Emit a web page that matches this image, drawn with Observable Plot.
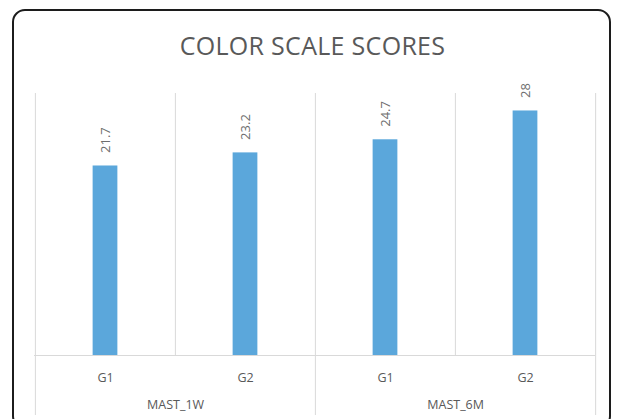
<!DOCTYPE html>
<html>
<head>
<meta charset="utf-8">
<script src="https://cdn.jsdelivr.net/npm/d3@7"></script>
<script src="https://cdn.jsdelivr.net/npm/@observablehq/plot@0.6"></script>
<style>
  html, body { margin: 0; padding: 0; background: #fff; }
  #wrap { position: relative; width: 617px; height: 419px; overflow: hidden; background: #fff; }
  #border { position: absolute; left: 12px; top: 9px; width: 599px; height: 420px; border: 2px solid #1c1c1c; border-radius: 13px; box-sizing: border-box; }
  #title { position: absolute; left: 0; width: 625px; top: 33px; line-height: 25px; text-align: center; font-family: "Open Sans", sans-serif; font-size: 25px; color: #595959; letter-spacing: 0.3px; }
  #chart { position: absolute; left: 0; top: 0; }
</style>
</head>
<body>
<div id="wrap">
  <div id="chart"></div>
  <div id="border"></div>
  <div id="title">COLOR SCALE SCORES</div>
</div>
<script>
const groups = ["MAST_1W", "MAST_1W", "MAST_6M", "MAST_6M"];
const subgroups = ["G1", "G2", "G1", "G2"];
const values = [21.7, 23.2, 24.7, 28];
const groupNames = ["MAST_1W", "MAST_6M"];

const data = groups.map((g, i) => ({key: g + "|" + subgroups[i], group: g, sub: subgroups[i], value: values[i]}));
const keys = data.map(d => d.key);

const W = 617, H = 419, mL = 34, mR = 22, mT = 93, mB = 64;
const bw = (W - mL - mR) / keys.length;
const barW = 25;
const grid = "#d9d9d9";
const txt = "#595959";

const chart = Plot.plot({
  width: W,
  height: H,
  marginLeft: mL,
  marginRight: mR,
  marginTop: mT,
  marginBottom: mB,
  style: {fontFamily: "'Open Sans', sans-serif", background: "transparent"},
  x: {type: "band", domain: keys, padding: 0, axis: null},
  y: {domain: [0, 30], axis: null},
  marks: [
    // short separators between G1 and G2 inside a group
    Plot.ruleX(data.filter(d => d.sub === "G2"), {x: "key", dx: -bw / 2, stroke: grid, strokeWidth: 1}),
    // long separators at group edges
    Plot.ruleX(data.filter(d => d.sub === "G1"), {x: "key", dx: -bw / 2, stroke: grid, strokeWidth: 1, insetBottom: -60}),
    Plot.ruleX([keys[keys.length - 1]], {x: d => d, dx: bw / 2, stroke: grid, strokeWidth: 1, insetBottom: -60}),
    Plot.ruleY([0], {stroke: grid, strokeWidth: 1}),
    Plot.barY(data, {x: "key", y: "value", fill: "#5ba7db", insetLeft: (bw - barW) / 2, insetRight: (bw - barW) / 2}),
    Plot.text(data, {x: "key", y: "value", text: d => String(d.value), rotate: -90, textAnchor: "start", dy: -13, fontSize: 13, fill: "#6e6e6e"}),
    Plot.axisX({tickSize: 0, tickPadding: 18, tickFormat: k => k.split("|")[1], fontSize: 12.5, fill: txt, label: null}),
    Plot.text(data.filter(d => d.sub === "G1"), {x: "key", text: "group", dx: bw / 2, frameAnchor: "bottom", dy: 53, fontSize: 12.5, fill: txt})
  ]
});
document.getElementById("chart").appendChild(chart);
</script>
</body>
</html>
